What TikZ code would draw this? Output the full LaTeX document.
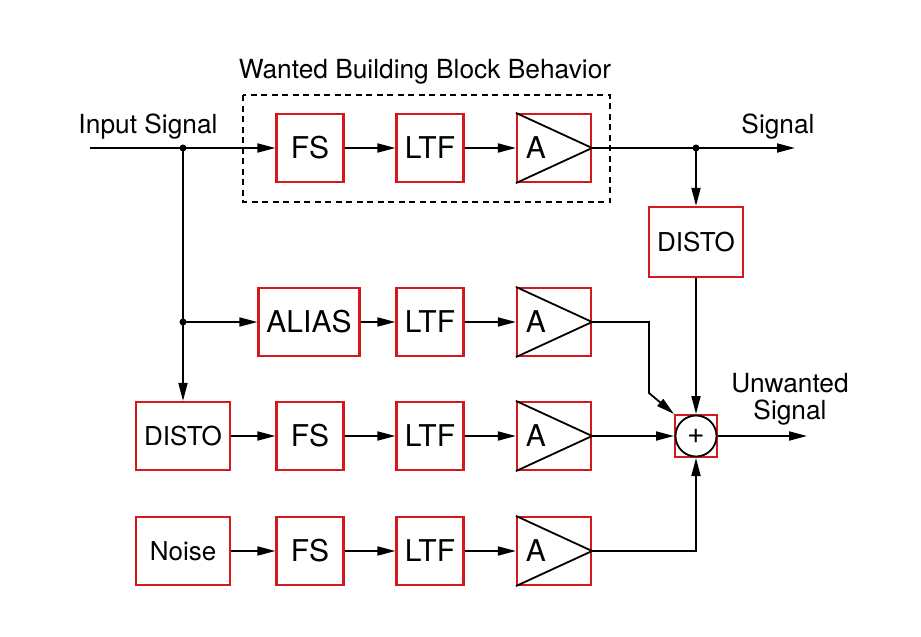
\documentclass[tikz,border=0pt]{standalone}
\usepackage{fontspec}
\setmainfont{TeX Gyre Heros}
\usetikzlibrary{arrows.meta,calc}
\definecolor{boxred}{RGB}{212,24,28}
\begin{document}
\begin{tikzpicture}[x=1pt,y=-1pt,
  blk/.style={draw=boxred, line width=2.2pt, minimum height=68pt, inner sep=0pt,
              font=\fontsize{30}{30}\selectfont},
  sq/.style={blk, minimum width=67pt},
  wide/.style={blk, minimum width=101pt},
  src/.style={blk, minimum width=94pt, font=\fontsize{26}{26}\selectfont},
  amp/.style={blk, minimum width=74pt},
  amptext/.style={inner sep=0pt, font=\fontsize{30}{30}\selectfont},
  lbl/.style={inner sep=0pt, font=\fontsize{26.3}{28}\selectfont, align=center},
  wire/.style={line width=1.8pt},
  conn/.style={wire, -{Triangle[length=18pt,width=9pt]}},
  dot/.style={circle, fill, inner sep=0pt, minimum size=7pt},
  dashbox/.style={line width=1.5pt, dash pattern=on 6pt off 4.5pt}
]
\useasboundingbox (0,0) rectangle (921,637);

% ---------- Row 1 (wanted) ----------
\node[sq] (fs1) at (310,148) {FS};
\node[sq] (ltf1) at (430,148) {LTF};
\node[amp] (a1) at (554,148) {};
% ---------- Row 2 ----------
\node[wide] (alias) at (309,322) {ALIAS};
\node[sq] (ltf2) at (430,322) {LTF};
\node[amp] (a2) at (554,322) {};
% ---------- Row 3 ----------
\node[src] (disto1) at (183,436) {DISTO};
\node[sq] (fs3) at (310,436) {FS};
\node[sq] (ltf3) at (430,436) {LTF};
\node[amp] (a3) at (554,436) {};
% ---------- Row 4 ----------
\node[src] (noise) at (183,551) {Noise};
\node[sq] (fs4) at (310,551) {FS};
\node[sq] (ltf4) at (430,551) {LTF};
\node[amp] (a4) at (554,551) {};
% ---------- right side ----------
\node[blk, minimum width=94pt, minimum height=70pt, font=\fontsize{26}{26}\selectfont] (disto2) at (696,242) {DISTO};
\node[draw=boxred, line width=2pt, minimum size=42pt, inner sep=0pt] (sum) at (696,436) {};
\node[draw, circle, line width=1.8pt, minimum size=41pt, inner sep=0pt,
      font=\fontsize{30}{30}\selectfont] (sumc) at (sum.center) {+};

% amplifier triangles and labels
\foreach \a in {a1,a2,a3,a4}{
  \draw[line width=1.8pt] (\a.north west) -- (\a.east) -- (\a.south west);
  \node[amptext] (\a t) at ($(\a.west)+(20,0)$) {A};
}

% dashed wanted block
\draw[dashbox] (243,95) rectangle (610,202);
\node[lbl] (title) at (425,72) {Wanted Building Block Behavior};

% labels
\node[lbl] (inlbl) at (148,127) {Input Signal};
\node[lbl] (siglbl) at (778,127) {Signal};
\node[lbl] (unw) at (790,399) {Unwanted\\[-1pt]Signal};

% coordinates
\coordinate (in) at (90,148);
\coordinate (j1) at (183,148);
\coordinate (j2) at (183,322);
\coordinate (j3) at (696,148);
\coordinate (sigout) at (795,148);
\coordinate (b2) at (649,322);
\coordinate (b2d) at (649,393);
\coordinate (b4) at (696,551);
\coordinate (uout) at (807,436);

% row 1 connectors
\draw[conn] (in) -- (fs1.west);
\draw[conn] (fs1) -- (ltf1);
\draw[conn] (ltf1) -- (a1.west);
\draw[conn] (a1.east) -- (sigout);
\node[dot] (d1) at (j1) {};
\node[dot] (d3) at (j3) {};
\draw[conn] (j3) -- (disto2.north);
\draw[conn] (disto2.south) -- (sum.north);

% branch
\draw[wire] (j1) -- (j2);
\node[dot] (d2) at (j2) {};
\draw[conn] (j2) -- (disto1.north);
\draw[conn] (j2) -- (alias.west);

% row 2
\draw[conn] (alias) -- (ltf2);
\draw[conn] (ltf2) -- (a2.west);
\draw[conn] (a2.east) -- (b2) -- (b2d) -- (sum.north west);

% row 3
\draw[conn] (disto1) -- (fs3);
\draw[conn] (fs3) -- (ltf3);
\draw[conn] (ltf3) -- (a3.west);
\draw[conn] (a3.east) -- (sum.west);

% row 4
\draw[conn] (noise) -- (fs4);
\draw[conn] (fs4) -- (ltf4);
\draw[conn] (ltf4) -- (a4.west);
\draw[conn] (a4.east) -- (b4) -- (sum.south);

% output
\draw[conn] (sum.east) -- (uout);
\end{tikzpicture}
\end{document}
